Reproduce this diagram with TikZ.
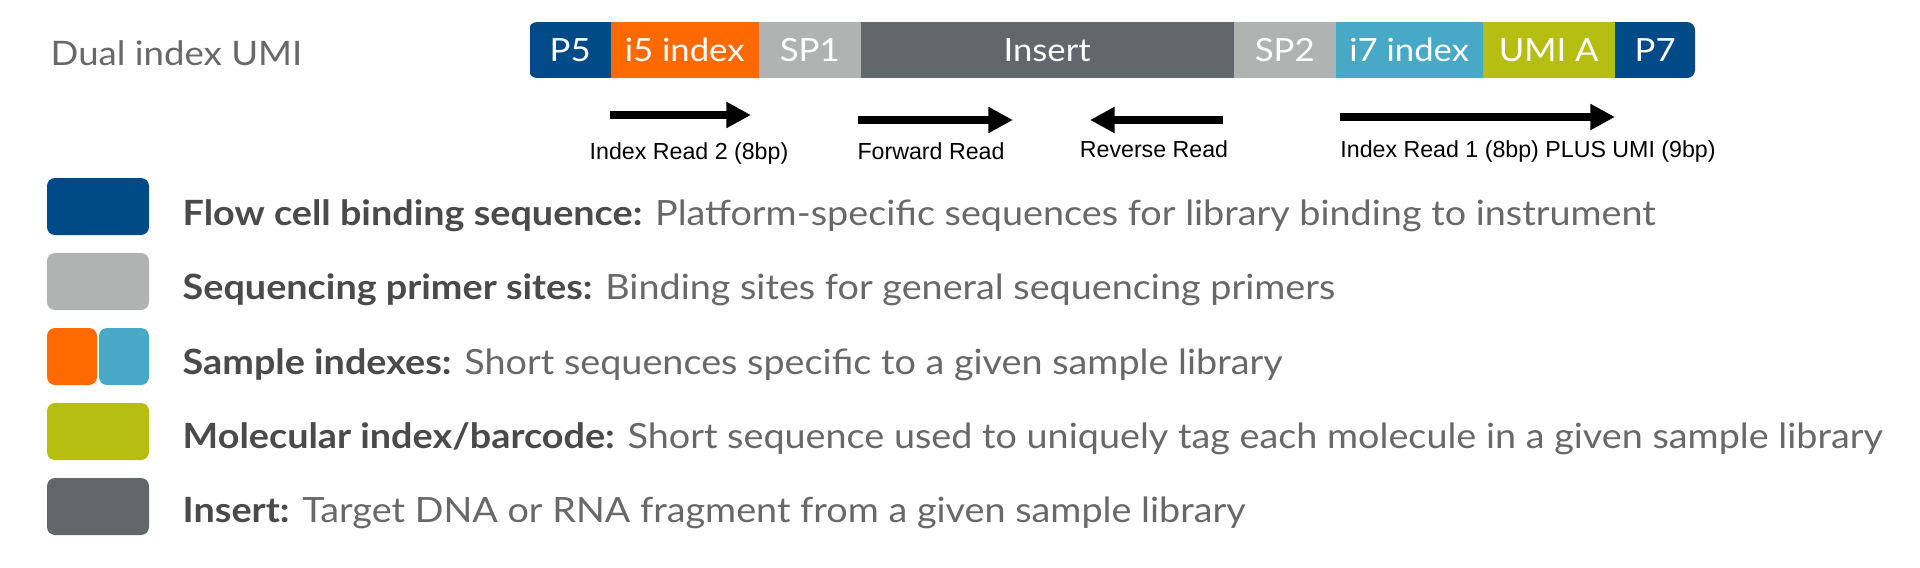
\documentclass[tikz,border=0pt]{standalone}
\usepackage{fontspec}
\setmainfont{Lato}[FakeStretch=1.085]
\newfontfamily\readfont{Liberation Sans}
\usetikzlibrary{arrows.meta}

\definecolor{flowblue}{HTML}{004A87}
\definecolor{idxorange}{HTML}{FF6A00}
\definecolor{primergray}{HTML}{B1B3B2}
\definecolor{insertgray}{HTML}{63666A}
\definecolor{idxblue}{HTML}{48A9C6}
\definecolor{umigreen}{HTML}{B6BE12}
\definecolor{boldtext}{HTML}{4A4A4A}
\definecolor{plaintext}{HTML}{686868}

\begin{document}
\begin{tikzpicture}[x=0.1mm, y=-0.1mm,
        seg/.style={minimum height=5.6mm, inner sep=0pt, anchor=west, text=white, font=\fontsize{9.1pt}{11pt}\selectfont},
        swatch/.style={minimum width=10.2mm, minimum height=5.7mm, inner sep=0pt, rounded corners=0.8mm},
        legtext/.style={anchor=base west, inner sep=0pt, text=plaintext, font=\fontsize{9.9pt}{12pt}\selectfont},
        readlbl/.style={anchor=base, inner sep=0pt, font=\readfont\fontsize{6.6pt}{8pt}\selectfont},
        read/.style={line width=2pt, -{Triangle[length=7pt, width=7pt]}}
      ]
      \useasboundingbox (0,0) rectangle (1920,568);

      % Title
      \node[anchor=base west, inner sep=0pt, text=plaintext, font=\fontsize{9.6pt}{12pt}\selectfont] (title) at (50,65) {Dual index UMI};

      % Library construct
      \begin{scope}
        \clip[rounded corners=0.8mm] (529,22) rectangle (1695,78);
        \node[seg, fill=flowblue,   minimum width=8.1mm]  (p5)     at (529,50)  {P5};
        \node[seg, fill=idxorange,  minimum width=14.8mm] (i5idx)  at (610,50)  {i5 index};
        \node[seg, fill=primergray, minimum width=10.2mm] (sp1)    at (758,50)  {SP1};
        \node[seg, fill=insertgray, minimum width=37.3mm] (insert) at (860,50)  {Insert};
        \node[seg, fill=primergray, minimum width=10.2mm] (sp2)    at (1233,50) {SP2};
        \node[seg, fill=idxblue,    minimum width=14.7mm] (i7idx)  at (1335,50) {i7 index};
        \node[seg, fill=umigreen,   minimum width=13.2mm] (umi)    at (1482,50) {UMI A};
        \node[seg, fill=flowblue,   minimum width=8.1mm]  (p7)     at (1614,50) {P7};
      \end{scope}

      % Reads
      \coordinate (ir2a) at (610,115);  \coordinate (ir2b) at (751,115);
      \coordinate (fwda) at (858,120);  \coordinate (fwdb) at (1013,120);
      \coordinate (reva) at (1223,120); \coordinate (revb) at (1090,120);
      \coordinate (ir1a) at (1340,117); \coordinate (ir1b) at (1615,117);
      \draw[read] (ir2a) -- (ir2b);
      \draw[read] (fwda) -- (fwdb);
      \draw[read] (reva) -- (revb);
      \draw[read] (ir1a) -- (ir1b);
      \node[readlbl] (ir2lbl) at (689,160)  {Index Read 2 (8bp)};
      \node[readlbl] (fwdlbl) at (931,160)  {Forward Read};
      \node[readlbl] (revlbl) at (1154,158) {Reverse Read};
      \node[readlbl] (ir1lbl) at (1528,157) {Index Read 1 (8bp) PLUS UMI (9bp)};

      % Legend
      \node[swatch, fill=flowblue]   (swflow)   at (98,206.5) {};
      \node[swatch, fill=primergray] (swprimer) at (98,281.5) {};
      \node[swatch, fill=idxorange, minimum width=5.0mm] (swi5) at (72,356.5) {};
      \node[swatch, fill=idxblue,   minimum width=5.0mm] (swi7) at (124,356.5) {};
      \node[swatch, fill=umigreen]   (swumi)    at (98,431.5) {};
      \node[swatch, fill=insertgray] (swinsert) at (98,506.5) {};

      \node[legtext] (lgflow)   at (182,225) {\textcolor{boldtext}{\textbf{Flow cell binding sequence:}} Platform-specific sequences for library binding to instrument};
      \node[legtext] (lgprimer) at (182,299) {\textcolor{boldtext}{\textbf{Sequencing primer sites:}} Binding sites for general sequencing primers};
      \node[legtext] (lgidx)    at (182,374) {\textcolor{boldtext}{\textbf{Sample indexes:}} Short sequences specific to a given sample library};
      \node[legtext] (lgumi)    at (182,448) {\textcolor{boldtext}{\textbf{Molecular index/barcode:}} Short sequence used to uniquely tag each molecule in a given sample library};
      \node[legtext] (lginsert) at (182,522) {\textcolor{boldtext}{\textbf{Insert:}} Target DNA or RNA fragment from a given sample library};

    \end{tikzpicture}
\end{document}
